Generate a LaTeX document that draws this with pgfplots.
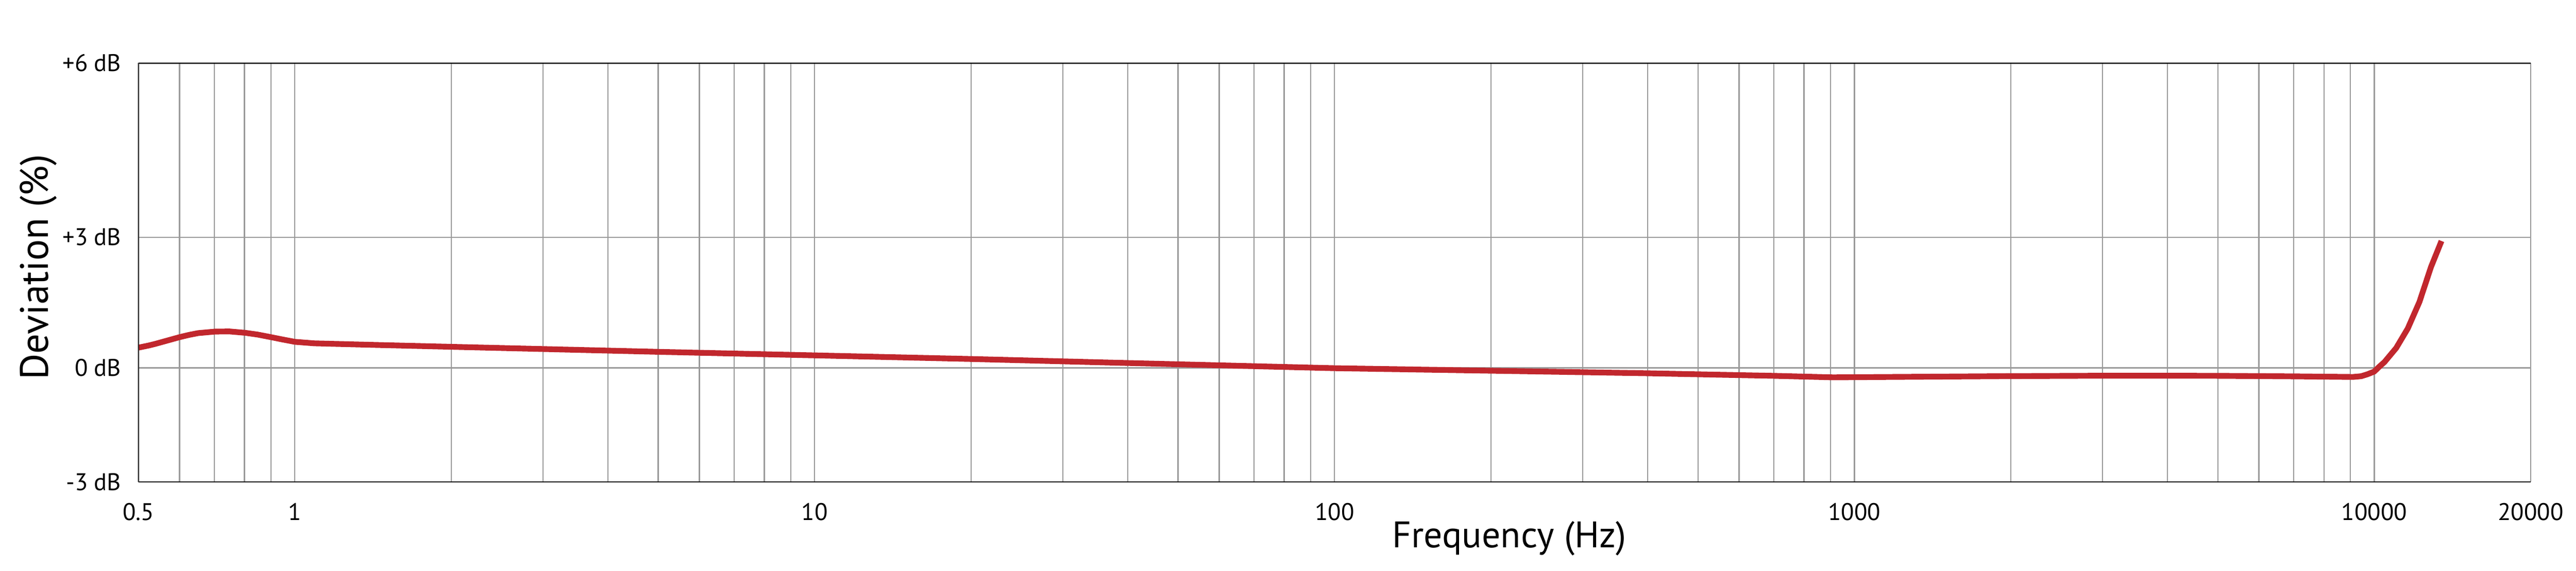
\documentclass[border=0pt]{standalone}
\usepackage{fontspec}
\setmainfont{PT Sans}
\usepackage{pgfplots}
\pgfplotsset{compat=1.18}

\definecolor{curvered}{RGB}{193,39,45}
\definecolor{gridgray}{RGB}{153,153,153}

% deviation curve; y is in plot units (0 dB = 0, -3 dB = -3, +3 dB = 3.43, +6 dB = 8.003)
\begin{document}
\begin{tikzpicture}
\begin{axis}[
    name=ax,
    scale only axis,
    width=686.4bp, height=120.3bp,
    xmode=log,
    xmin=0.5, xmax=20000,
    ymin=-3, ymax=8.003,
    xtick={0.5,1,10,100,1000,10000,20000},
    xticklabels={0.5,1,10,100,1000,10000,20000},
    minor xtick={0.6,0.7,0.8,0.9,2,3,4,5,6,7,8,9,20,30,40,50,60,70,80,90,
                 200,300,400,500,600,700,800,900,2000,3000,4000,5000,6000,7000,8000,9000},
    ytick={-3,0,3.43,8.003},
    yticklabels={-3 dB,0 dB,+3 dB,\raisebox{-1.9bp}{+6 dB}},
    major tick length=0pt, minor tick length=0pt,
    grid=both,
    major grid style={gridgray, line width=0.33bp},
    minor grid style={gridgray, line width=0.33bp},
    axis line style={draw=none},
    tick label style={font=\fontsize{6.9bp}{8bp}\selectfont},
    xticklabel style={yshift=-2.5bp},
    yticklabel style={xshift=-1.4bp},
    xlabel={Frequency (Hz)},
    ylabel={Deviation (\%)},
    xlabel style={at={(axis description cs:0.573,0)}, anchor=north, yshift=-7.7bp,
                  font=\fontsize{10.6bp}{12bp}\selectfont},
    ylabel style={at={(axis description cs:0,0.513)}, anchor=center, yshift=28.7bp,
                  font=\fontsize{11.4bp}{13bp}\selectfont},
]
\addplot [curvered, line width=1.65bp, line join=round] table {
f       d
0.5     0.53
0.523   0.585
0.541   0.635
0.568   0.715
0.6     0.805
0.626   0.865
0.652   0.912
0.703   0.952
0.749   0.955
0.802   0.92
0.848   0.873
0.896   0.81
0.947   0.744
1.0     0.683
1.09    0.643
1.44    0.60
2       0.552
5       0.42
10      0.327
20      0.232
38      0.134
100     -0.01
200     -0.076
400     -0.143
500     -0.17
700     -0.21
910     -0.25
1000    -0.246
2000    -0.218
3000    -0.207
4000    -0.207
5000    -0.21
7000    -0.224
9100    -0.24
9440    -0.22
9700    -0.17
10000   -0.098
10197   0.015
10464   0.152
11020   0.52
11600   1.031
12215   1.73
12860   2.65
13470   3.33
};
\draw [black, line width=0.35bp] (rel axis cs:0,1) -- (rel axis cs:0,0) -- (rel axis cs:1,0);
\draw [black, line width=0.35bp] (rel axis cs:0,1) -- (rel axis cs:1,1);
\end{axis}
\pgfresetboundingbox
\path ([xshift=-39.7bp,yshift=-25.4bp]ax.south west) rectangle ([xshift=13bp,yshift=18.1bp]ax.north east);
\end{tikzpicture}
\end{document}
